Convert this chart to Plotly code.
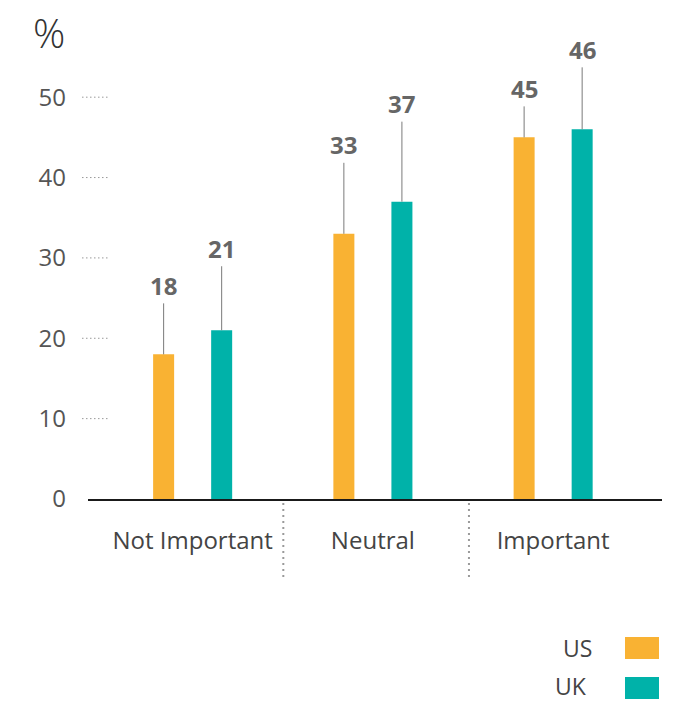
import plotly.graph_objects as go

# ---- data ----
categories = ["Not Important", "Neutral", "Important"]
us_values = [18, 33, 45]
uk_values = [21, 37, 46]
series_names = ["US", "UK"]
y_ticks = [0, 10, 20, 30, 40, 50]

# ---- style constants ----
US_COLOR = "#F9B233"
UK_COLOR = "#00B2A9"
FONT = "Open Sans"
W, H = 673, 701
ML, MR, MT, MB = 88, 11, 57, 202
PW, PH = W - ML - MR, H - MT - MB
BAR_OFFSET = 0.161          # half slot in x units
label_offsets_us = [-69, -89, -49]   # px above bar top
label_offsets_uk = [-82, -98, -80]
sep_positions = [0.503, 1.533]

def px_x(p):
    return (p - ML) / PW

def px_y(p):
    return (H - MB - p) / PH

xs = list(range(len(categories)))

fig = go.Figure()
fig.add_trace(go.Bar(x=xs, y=us_values, name=series_names[0],
                     marker=dict(color=US_COLOR, line=dict(width=0)), showlegend=False))
fig.add_trace(go.Bar(x=xs, y=uk_values, name=series_names[1],
                     marker=dict(color=UK_COLOR, line=dict(width=0)), showlegend=False))

annotations = []
for i, (u, k) in enumerate(zip(us_values, uk_values)):
    for val, dx, ay in ((u, -BAR_OFFSET, label_offsets_us[i]), (k, BAR_OFFSET, label_offsets_uk[i])):
        annotations.append(dict(
            x=i + dx, y=val, xref="x", yref="y", text=f"<b>{val}</b>",
            showarrow=True, arrowhead=0, arrowwidth=1, arrowcolor="#7a7a7a",
            ax=0, ay=ay, font=dict(family=FONT, size=24, color="#666666"),
        ))

# % label
annotations.append(dict(x=px_x(49), y=px_y(33), xref="paper", yref="paper", text="%",
                        showarrow=False, xanchor="center", yanchor="middle",
                        font=dict(family=FONT, size=40, color="#333333", weight=300)))

# legend (custom)
shapes = []
legend_rows = [(series_names[0], US_COLOR, 637, 659, 577.5, 647.5),
               (series_names[1], UK_COLOR, 677, 699, 570.5, 686)]
for name, col, y0, y1, tx, ty in legend_rows:
    shapes.append(dict(type="rect", xref="paper", yref="paper",
                       x0=px_x(625), x1=px_x(659), y0=px_y(y1), y1=px_y(y0),
                       fillcolor=col, line=dict(width=0)))
    annotations.append(dict(x=px_x(tx), y=px_y(ty), xref="paper", yref="paper", text=name,
                            showarrow=False, xanchor="center", yanchor="middle", borderpad=0,
                            font=dict(family=FONT, size=23, color="#444444")))

# dotted y tick marks
for t in y_ticks[1:]:
    shapes.append(dict(type="line", xref="paper", yref="y",
                       x0=px_x(82), x1=px_x(108), y0=t, y1=t,
                       line=dict(color="#999999", width=1, dash="1.5px,2.5px")))

# category separators
for s in sep_positions:
    shapes.append(dict(type="line", xref="x", yref="paper",
                       x0=s, x1=s, y0=px_y(503), y1=px_y(581),
                       line=dict(color="#9a9a9a", width=2, dash="2px,4px")))

fig.update_layout(
    width=W, height=H,
    margin=dict(l=ML, r=MR, t=MT, b=MB, pad=0),
    paper_bgcolor="white", plot_bgcolor="white",
    barmode="group", bargap=0.356, bargroupgap=0.638,
    font=dict(family=FONT),
    xaxis=dict(range=[-0.5806, 2.604], tickmode="array", tickvals=xs, ticktext=categories,
               showgrid=False, zeroline=False, showline=True, linecolor="#1a1a1a", linewidth=1.5,
               ticks="", ticklabelstandoff=19,
               tickfont=dict(family=FONT, size=24, color="#444444"), fixedrange=True),
    yaxis=dict(range=[0, 55], tickmode="array", tickvals=y_ticks,
               showgrid=False, zeroline=False, showline=False, ticks="",
               ticklabelstandoff=21,
               tickfont=dict(family=FONT, size=24, color="#555555"), fixedrange=True),
    annotations=annotations, shapes=shapes,
    showlegend=False,
)

fig.write_html("out.html")
